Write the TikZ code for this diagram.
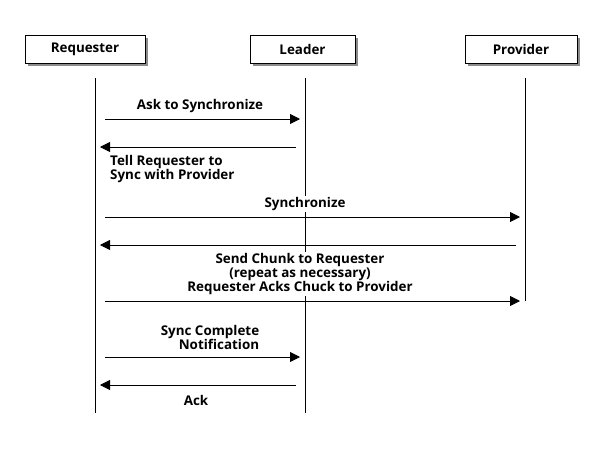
\documentclass[tikz,border=0pt]{standalone}
\usepackage{fontspec}
\setmainfont{Open Sans}
\usetikzlibrary{arrows.meta,shadows}
\begin{document}
\begin{tikzpicture}[x=1pt,y=-1pt,
  font=\fontsize{13.4}{14}\selectfont\bfseries,
  actor/.style={draw=black,line width=0.8pt,fill=white,minimum height=28pt,inner sep=0pt,
    drop shadow={shadow xshift=3pt,shadow yshift=-3pt,fill=black!45,opacity=1}},
  life/.style={line width=0.8pt},
  msg/.style={line width=0.8pt,-{Triangle[length=10pt,width=10pt]}},
  lbl/.style={fill=white,inner sep=1pt,align=center}]
\useasboundingbox (0,0) rectangle (600,448);
% actors
\node[actor,minimum width=120pt] (req) at (85,49) {Requester};
\node[actor,minimum width=105pt] (lead) at (302.5,49) {Leader};
\node[actor,minimum width=112pt] (prov) at (521,49) {Provider};
% lifelines
\coordinate (reqT) at (95,78); \coordinate (reqB) at (95,413);
\coordinate (leadT) at (305,78); \coordinate (leadB) at (305,413);
\coordinate (provT) at (525,78); \coordinate (provB) at (525,301);
\draw[life] (reqT) -- (reqB);
\draw[life] (leadT) -- (leadB);
\draw[life] (provT) -- (provB);
% message endpoints
\coordinate (a1) at (105,119); \coordinate (b1) at (300,119);
\coordinate (a2) at (296,147); \coordinate (b2) at (100,147);
\coordinate (a3) at (105,217); \coordinate (b3) at (520,217);
\coordinate (a4) at (516,245); \coordinate (b4) at (100,245);
\coordinate (a5) at (105,301); \coordinate (b5) at (520,301);
\coordinate (a6) at (105,357); \coordinate (b6) at (300,357);
\coordinate (a7) at (296,385); \coordinate (b7) at (100,385);
\draw[msg] (a1) -- (b1);
\draw[msg] (a2) -- (b2);
\draw[msg] (a3) -- (b3);
\draw[msg] (a4) -- (b4);
\draw[msg] (a5) -- (b5);
\draw[msg] (a6) -- (b6);
\draw[msg] (a7) -- (b7);
% labels
\node[lbl] (l1) at (200,106) {Ask to Synchronize};
\node[lbl,align=left,anchor=west] (l2) at (109,169) {Tell Requester to\\Sync with Provider};
\node[lbl] (l3) at (305,204) {Synchronize};
\node[lbl] (l4) at (300,274) {Send Chunk to Requester\\(repeat as necessary)\\Requester Acks Chuck to Provider};
\node[lbl,align=right] (l5) at (210,337) {Sync Complete\\Notification};
\node[lbl] (l6) at (196,400) {Ack};
\end{tikzpicture}
\end{document}
